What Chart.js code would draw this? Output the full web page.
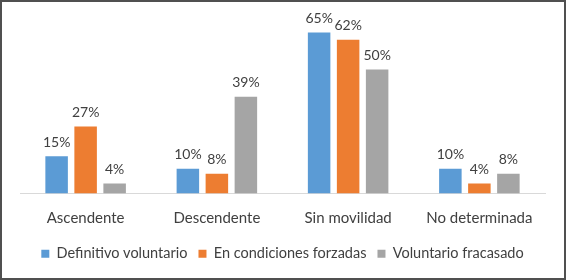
<!DOCTYPE html>
<html>
<head>
<meta charset="utf-8">
<script src="https://cdn.jsdelivr.net/npm/chart.js@4.4.1/dist/chart.umd.min.js"></script>
<style>
    html, body { margin: 0; padding: 0; background: #fff; }
    #wrap {
        width: 566px;
        height: 280px;
        box-sizing: border-box;
        border: 2px solid #505050;
        position: relative;
    }
</style>
</head>
<body>
<div id="wrap"><canvas id="myChart"></canvas></div>
<script>
const categories = ['Ascendente', 'Descendente', 'Sin movilidad', 'No determinada'];
const seriesNames = ['Definitivo voluntario', 'En condiciones forzadas', 'Voluntario fracasado'];
const definitivoVoluntario = [15, 10, 65, 10];
const condicionesForzadas = [27, 8, 62, 4];
const voluntarioFracasado = [4, 39, 50, 8];
const colors = ['#5B9BD5', '#ED7D31', '#A5A5A5'];

const fontFamily = "Lato, 'Open Sans', sans-serif";
const textColor = '#404040';

// etiquetas de porcentaje encima de cada barra
const valueLabels = {
    id: 'valueLabels',
    afterDatasetsDraw(chart) {
        const ctx = chart.ctx;
        ctx.save();
        ctx.font = '14px ' + fontFamily;
        ctx.fillStyle = textColor;
        ctx.textAlign = 'center';
        ctx.textBaseline = 'bottom';
        chart.data.datasets.forEach((ds, i) => {
            chart.getDatasetMeta(i).data.forEach((bar, j) => {
                ctx.fillText(ds.data[j] + '%', bar.x, bar.y - 7);
            });
        });
        ctx.restore();
    }
};

document.addEventListener("DOMContentLoaded", function() {
    const ctx = document.getElementById('myChart').getContext('2d');

    const data = {
        labels: categories,
        datasets: [
            { label: seriesNames[0], backgroundColor: colors[0], data: definitivoVoluntario },
            { label: seriesNames[1], backgroundColor: colors[1], data: condicionesForzadas },
            { label: seriesNames[2], backgroundColor: colors[2], data: voluntarioFracasado }
        ]
    };

    new Chart(ctx, {
        type: 'bar',
        data: data,
        plugins: [valueLabels],
        options: {
            responsive: true,
            maintainAspectRatio: false,
            animation: false,
            categoryPercentage: 0.663,
            barPercentage: 0.776,
            layout: {
                padding: { left: 18, right: 19, top: 18, bottom: 7 }
            },
            scales: {
                x: {
                    grid: { display: false },
                    border: { display: true, color: '#d9d9d9', width: 1 },
                    ticks: {
                        color: textColor,
                        font: { size: 15, family: fontFamily },
                        padding: 8
                    }
                },
                y: {
                    display: false,
                    min: 0,
                    max: 70
                }
            },
            plugins: {
                tooltip: { enabled: false },
                legend: {
                    position: 'bottom',
                    labels: {
                        color: textColor,
                        font: { size: 14.5, family: fontFamily },
                        boxWidth: 8,
                        boxHeight: 8,
                        padding: 11
                    }
                }
            }
        }
    });
});
</script>
</body>
</html>
